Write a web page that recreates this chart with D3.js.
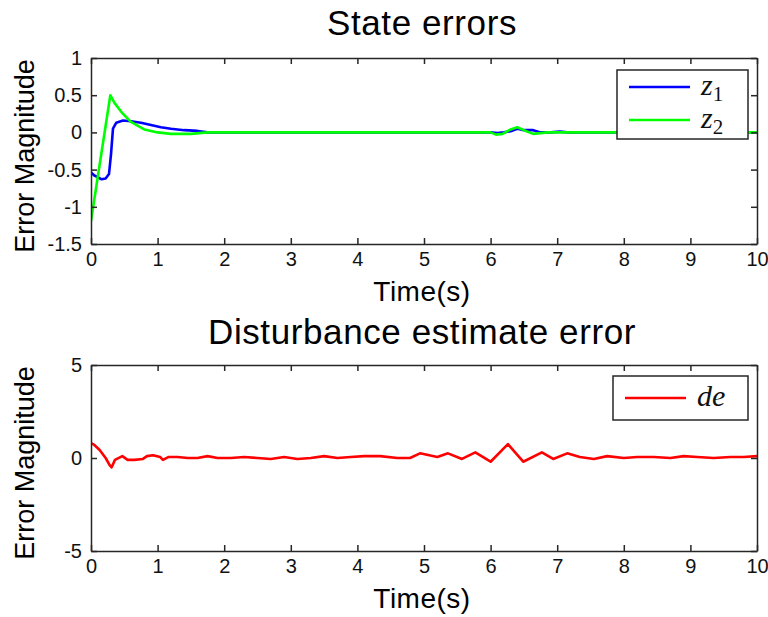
<html>

<head>
    <meta charset="utf-8">
    <script src="https://d3js.org/d3.v7.min.js"></script>
</head>

<body style="margin:0;background:white">
    <svg></svg>
    <script>
        // --- data ---
        const z1T = [0, 0.05, 0.1, 0.16, 0.22, 0.27, 0.3, 0.33, 0.38, 0.48, 0.6, 0.75, 0.9, 1.05, 1.2, 1.4, 1.6, 1.75,
            6.0, 6.1, 6.2, 6.32, 6.4, 6.5, 6.64, 6.75, 6.9, 7.04, 7.15, 10];
        const z1V = [-0.54, -0.58, -0.6, -0.63, -0.62, -0.56, -0.3, 0.05, 0.13, 0.16, 0.15, 0.13, 0.1, 0.07, 0.05, 0.03, 0.02, 0,
            0, -0.01, 0, 0.02, 0.05, 0.03, 0.03, 0, 0, 0.01, 0, 0];
        const z2T = [0, 0.29, 0.35, 0.46, 0.6, 0.8, 1.0, 1.2, 1.5, 1.75,
            6.0, 6.08, 6.18, 6.3, 6.4, 6.5, 6.64, 6.75, 6.85, 10];
        const z2V = [-1.19, 0.5, 0.4, 0.27, 0.14, 0.04, 0.0, -0.02, -0.02, 0,
            0, -0.03, -0.02, 0.04, 0.07, 0.03, -0.02, -0.01, 0, 0];
        const deT = [0, 0.05, 0.13, 0.22, 0.28, 0.31, 0.36, 0.47, 0.55, 0.65, 0.78, 0.84, 0.93, 1.04, 1.08, 1.16, 1.3, 1.45,
            1.6, 1.75, 1.9, 2.1, 2.3, 2.5, 2.7, 2.9, 3.1, 3.3, 3.5, 3.7, 3.9, 4.1, 4.34, 4.6, 4.79, 4.94, 5.2, 5.36, 5.57,
            5.77, 6.0, 6.26, 6.49, 6.77, 6.94, 7.15, 7.34, 7.55, 7.75, 8.0, 8.2, 8.45, 8.7, 8.9, 9.1, 9.35, 9.6, 9.8, 10];
        const deV = [0.8, 0.7, 0.43, 0.0, -0.38, -0.5, -0.1, 0.1, -0.1, -0.1, -0.05, 0.1, 0.15, 0.05, -0.1, 0.05, 0.05, 0.0,
            0.0, 0.1, 0.0, 0.0, 0.05, 0.0, -0.05, 0.05, -0.05, 0.0, 0.1, 0.0, 0.05, 0.1, 0.1, 0.0, 0.0, 0.25, 0.05, 0.25, -0.05,
            0.3, -0.2, 0.75, -0.2, 0.3, -0.05, 0.25, 0.05, -0.05, 0.1, 0.0, 0.05, 0.05, 0.0, 0.1, 0.05, 0.0, 0.05, 0.05, 0.1];

        const xTicks = [0, 1, 2, 3, 4, 5, 6, 7, 8, 9, 10];
        const yTicksTop = [-1.5, -1, -0.5, 0, 0.5, 1];
        const yTicksBottom = [-5, 0, 5];

        const width = 768
        const height = 617
        const axisColor = "#262626"
        const fmt = d => String(d) // plain hyphen minus, like matlab

        const svg = d3.select("svg")
            .attr("width", width)
            .attr("height", height)
            .attr("viewBox", [0, 0, width, height])
            .style("font-family", "Liberation Sans, Arial, sans-serif");

        function panel(top, bottom, yDomain, yTicks, title, titleY, series, legend) {
            const x = d3.scaleLinear([0, 10], [91, 757]);
            const y = d3.scaleLinear(yDomain, [bottom, top]);
            const tickLen = 6;

            // clip so lines stay in the box
            const clipId = "clip" + top;
            svg.append("clipPath").attr("id", clipId)
                .append("rect").attr("x", 91).attr("y", top).attr("width", 666).attr("height", bottom - top);

            // lines
            const g = svg.append("g").attr("clip-path", `url(#${clipId})`);
            series.forEach(s => {
                const line = d3.line().x(i => x(s.t[i])).y(i => y(s.v[i]));
                g.append("path")
                    .attr("fill", "none")
                    .attr("stroke", s.color)
                    .attr("stroke-width", 2.6)
                    .attr("stroke-linejoin", "round")
                    .attr("d", line(d3.range(s.t.length)));
            });

            // axes: ticks pointing inward, all four sides (matlab style)
            svg.append("g").attr("transform", `translate(0,${bottom})`)
                .call(d3.axisBottom(x).tickValues(xTicks).tickFormat(fmt).tickSizeInner(-tickLen).tickSizeOuter(0).tickPadding(8))
                .call(g => g.selectAll("text").attr("font-size", 20).attr("dy", "0.72em"));
            svg.append("g").attr("transform", `translate(0,${top})`)
                .call(d3.axisTop(x).tickValues(xTicks).tickSizeInner(-tickLen).tickSizeOuter(0).tickFormat(""));
            svg.append("g").attr("transform", `translate(91,0)`)
                .call(d3.axisLeft(y).tickValues(yTicks).tickFormat(fmt).tickSizeInner(-tickLen).tickSizeOuter(0).tickPadding(9))
                .call(g => g.selectAll("text").attr("font-size", 20));
            svg.append("g").attr("transform", `translate(757,0)`)
                .call(d3.axisRight(y).tickValues(yTicks).tickSizeInner(-tickLen).tickSizeOuter(0).tickFormat(""));
            svg.selectAll(".domain, .tick line").attr("stroke", axisColor).attr("stroke-width", 1.5);
            svg.selectAll(".tick text").attr("fill", "#111");

            // titles and labels
            svg.append("text").attr("x", 422).attr("y", titleY).attr("text-anchor", "middle")
                .attr("font-size", 35).attr("letter-spacing", 0.6).text(title);
            svg.append("text").attr("x", 422).attr("y", bottom + 57).attr("text-anchor", "middle")
                .attr("font-size", 28).attr("letter-spacing", 0.5).text("Time(s)");
            svg.append("text")
                .attr("transform", `translate(34,${(top + bottom) / 2 + 5}) rotate(-90)`)
                .attr("text-anchor", "middle")
                .attr("font-size", 27).text("Error Magnitude");

            // legend
            const lg = svg.append("g");
            lg.append("rect").attr("x", legend.x).attr("y", legend.y).attr("width", legend.w).attr("height", legend.h)
                .attr("fill", "white").attr("stroke", axisColor).attr("stroke-width", 1.5);
            legend.items.forEach((it, k) => {
                const cy = legend.y + 17 + k * 33 + (legend.items.length === 1 ? 5 : 0);
                lg.append("line").attr("x1", legend.x + 12).attr("x2", legend.x + 73)
                    .attr("y1", cy).attr("y2", cy)
                    .attr("stroke", it.color).attr("stroke-width", 2.6);
                const t = lg.append("text").attr("x", legend.x + 84).attr("y", cy + 8)
                    .attr("font-family", "Liberation Serif, DejaVu Serif, serif").attr("font-size", 30).attr("fill", "#111");
                t.append("tspan").attr("font-style", "italic").text(it.main);
                if (it.sub) t.append("tspan").attr("font-size", 21).attr("dy", 6).text(it.sub);
            });
        }

        panel(58, 244, [-1.5, 1], yTicksTop, "State errors", 35,
            [{ t: z1T, v: z1V, color: "#0000ff" }, { t: z2T, v: z2V, color: "#00ff00" }],
            { x: 617, y: 70, w: 131, h: 69, items: [{ main: "z", sub: "1", color: "#0000ff" }, { main: "z", sub: "2", color: "#00ff00" }] });

        panel(365, 551, [-5, 5], yTicksBottom, "Disturbance estimate error", 344,
            [{ t: deT, v: deV, color: "#ff0000" }],
            { x: 613, y: 376, w: 135, h: 44, items: [{ main: "de", color: "#ff0000" }] });
    </script>
</body>

</html>
